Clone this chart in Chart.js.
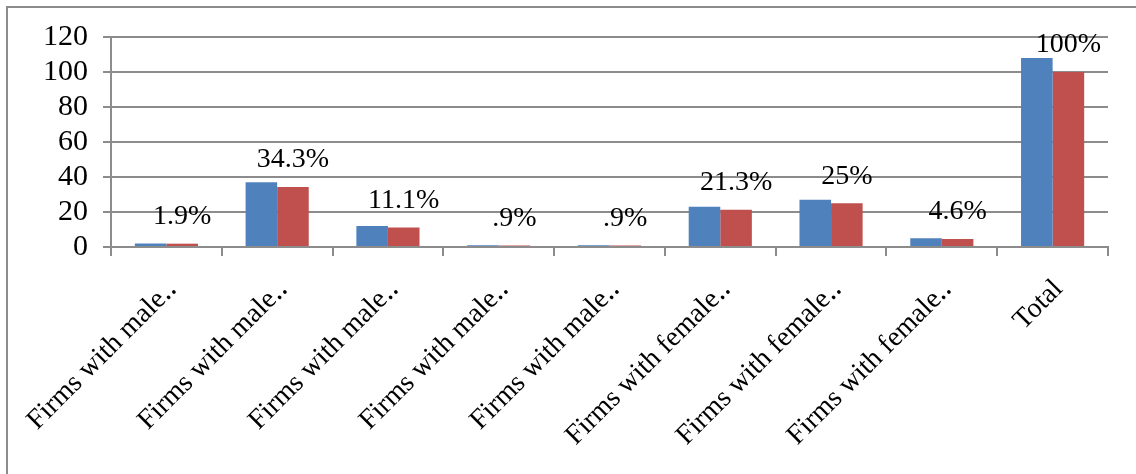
<!DOCTYPE html>
<html>
<head>
<meta charset="utf-8">
<script src="https://cdn.jsdelivr.net/npm/chart.js@4"></script>
<style>
  html, body { margin: 0; padding: 0; background: #fff; }
  #wrap { width: 1136px; height: 474px; position: relative; }
</style>
</head>
<body>
<div id="wrap"><canvas id="firmsChart" width="1136" height="474"></canvas></div>
<script>
// Categories and values
const categories = [
  "Firms with male‥", "Firms with male‥", "Firms with male‥", "Firms with male‥",
  "Firms with male‥", "Firms with female‥", "Firms with female‥", "Firms with female‥", "Total"
];
const firmCounts = [2, 37, 12, 1, 1, 23, 27, 5, 108];
const firmPercents = [1.9, 34.3, 11.1, 0.9, 0.9, 21.3, 25, 4.6, 100];
const yTicks = [0, 20, 40, 60, 80, 100, 120];

const serif = "'Liberation Serif', 'Times New Roman', serif";

// Outer frame (left and top edges show)
const framePlugin = {
  id: "frame",
  beforeDraw(chart) {
    const c = chart.ctx;
    c.save();
    c.fillStyle = "#fff";
    c.fillRect(0, 0, chart.width, chart.height);
    c.strokeStyle = "#8c8c8c";
    c.lineWidth = 2;
    c.strokeRect(7, 7, 1200, 600);
    c.restore();
  }
};

// Percent labels above the red bars
const pctLabels = {
  id: "pctLabels",
  afterDatasetsDraw(chart) {
    const c = chart.ctx;
    const meta = chart.getDatasetMeta(1);
    c.save();
    c.font = "28px " + serif;
    c.fillStyle = "#000";
    c.textAlign = "center";
    c.textBaseline = "middle";
    meta.data.forEach((bar, i) => {
      const txt = String(firmPercents[i]).replace(/^0\./, ".") + "%";
      c.fillText(txt, bar.x, bar.y - 27);
    });
    c.restore();
  }
};

new Chart(document.getElementById("firmsChart").getContext("2d"), {
  type: "bar",
  data: {
    labels: categories,
    datasets: [
      {
        label: "Number",
        data: firmCounts,
        backgroundColor: "#4F81BD",
        categoryPercentage: 0.57,
        barPercentage: 1,
      },
      {
        label: "Percent",
        data: firmPercents,
        backgroundColor: "#C0504D",
        categoryPercentage: 0.57,
        barPercentage: 1,
      },
    ],
  },
  options: {
    responsive: false,
    animation: false,
    layout: { padding: { top: 37, right: 28, left: 0, bottom: 0 } },
    plugins: { legend: { display: false }, tooltip: { enabled: false } },
    scales: {
      x: {
        grid: { drawOnChartArea: false, offset: true, color: "#8c8c8c", lineWidth: 2, tickLength: 9 },
        border: { color: "#8c8c8c", width: 2 },
        ticks: {
          color: "#000",
          font: { family: serif, size: 28 },
          maxRotation: 45,
          minRotation: 45,
          autoSkip: false,
          padding: 17,
          labelOffset: 6,
        },
        afterFit(scale) { scale.height = 474 - 247; },
      },
      y: {
        min: 0,
        max: 120,
        afterBuildTicks(scale) { scale.ticks = yTicks.map(v => ({ value: v })); },
        grid: { color: "#8c8c8c", lineWidth: 2, tickLength: 8 },
        border: { color: "#8c8c8c", width: 2 },
        ticks: {
          color: "#000",
          font: { family: serif, size: 30 },
          padding: 15,
          autoSkip: false,
        },
        afterFit(scale) { scale.width = 111; },
      },
    },
  },
  plugins: [framePlugin, pctLabels],
});
</script>
</body>
</html>
